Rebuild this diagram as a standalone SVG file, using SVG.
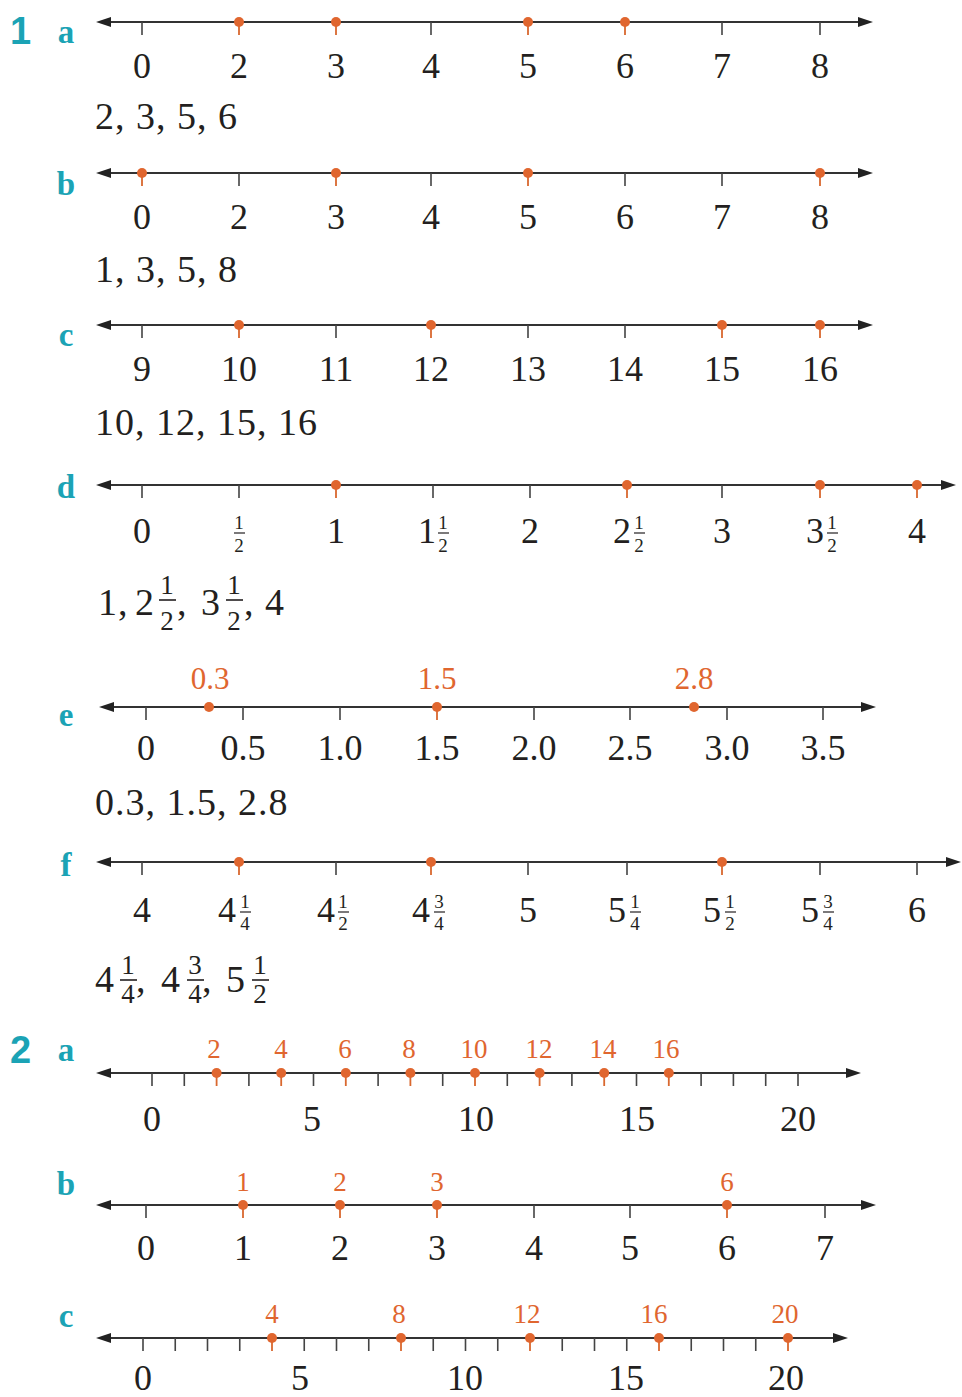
<svg xmlns="http://www.w3.org/2000/svg" width="962" height="1397" viewBox="0 0 962 1397">
<defs>
<style>
.ax{stroke:#333;stroke-width:2;fill:none}
.tk{stroke:#444;stroke-width:1.6;fill:none}
.otk{stroke:#D9682F;stroke-width:1.8;fill:none}
.dot{fill:#E0662F}
.num{font-family:"Liberation Serif",serif;font-size:36px;fill:#231F20;text-anchor:middle}
.nl{font-family:"Liberation Serif",serif;font-size:36px;fill:#231F20;text-anchor:end}
.sm{font-family:"Liberation Serif",serif;font-size:19px;fill:#231F20;text-anchor:middle}
.ans{font-family:"Liberation Serif",serif;font-size:38px;fill:#231F20;letter-spacing:1px}
.af{font-family:"Liberation Serif",serif;font-size:27px;fill:#231F20;text-anchor:middle}
.or{font-family:"Liberation Serif",serif;font-size:31px;fill:#E0662F;text-anchor:middle}
.or2{font-family:"Liberation Serif",serif;font-size:27px;fill:#E0662F;text-anchor:middle}
.q{font-family:"Liberation Sans",sans-serif;font-weight:bold;font-size:38px;fill:#1BA3B5}
.let{font-family:"Liberation Serif",serif;font-weight:bold;font-size:33px;fill:#1BA3B5;text-anchor:middle}
.bar{stroke:#231F20;stroke-width:1.2}
.bar2{stroke:#231F20;stroke-width:1.6}
</style>
<marker id="ah" markerUnits="userSpaceOnUse" markerWidth="16" markerHeight="12" refX="4" refY="6" orient="auto-start-reverse">
<path d="M0,1 L15,6 L0,11 z" fill="#222"/>
</marker>
</defs>
<rect width="962" height="1397" fill="#fff"/>

<text class="q" x="10" y="44">1</text>
<text class="q" x="10" y="1063">2</text>

<!-- 1a -->
<g id="q1a">
<text class="let" x="66" y="43">a</text>
<line class="ax" x1="107" y1="22" x2="862" y2="22" marker-start="url(#ah)" marker-end="url(#ah)"/>
<path class="tk" d="M142,22v13M431,22v13M722,22v13M820,22v13"/>
<path class="otk" d="M239,22v13M336,22v13M528,22v13M625,22v13"/>
<circle class="dot" cx="239" cy="22" r="5"/><circle class="dot" cx="336" cy="22" r="5"/><circle class="dot" cx="528" cy="22" r="5"/><circle class="dot" cx="625" cy="22" r="5"/>
<text class="num" y="78"><tspan x="142">0</tspan><tspan x="239">2</tspan><tspan x="336">3</tspan><tspan x="431">4</tspan><tspan x="528">5</tspan><tspan x="625">6</tspan><tspan x="722">7</tspan><tspan x="820">8</tspan></text>
<text class="ans" x="95" y="129">2, 3, 5, 6</text>
</g>

<!-- 1b -->
<g id="q1b">
<text class="let" x="66" y="195">b</text>
<line class="ax" x1="107" y1="173" x2="862" y2="173" marker-start="url(#ah)" marker-end="url(#ah)"/>
<path class="tk" d="M239,173v13M431,173v13M625,173v13M722,173v13"/>
<path class="otk" d="M142,173v13M336,173v13M528,173v13M820,173v13"/>
<circle class="dot" cx="142" cy="173" r="5"/><circle class="dot" cx="336" cy="173" r="5"/><circle class="dot" cx="528" cy="173" r="5"/><circle class="dot" cx="820" cy="173" r="5"/>
<text class="num" y="229"><tspan x="142">0</tspan><tspan x="239">2</tspan><tspan x="336">3</tspan><tspan x="431">4</tspan><tspan x="528">5</tspan><tspan x="625">6</tspan><tspan x="722">7</tspan><tspan x="820">8</tspan></text>
<text class="ans" x="95" y="282">1, 3, 5, 8</text>
</g>

<!-- 1c -->
<g id="q1c">
<text class="let" x="66" y="346">c</text>
<line class="ax" x1="107" y1="325" x2="862" y2="325" marker-start="url(#ah)" marker-end="url(#ah)"/>
<path class="tk" d="M142,325v13M336,325v13M528,325v13M625,325v13"/>
<path class="otk" d="M239,325v13M431,325v13M722,325v13M820,325v13"/>
<circle class="dot" cx="239" cy="325" r="5"/><circle class="dot" cx="431" cy="325" r="5"/><circle class="dot" cx="722" cy="325" r="5"/><circle class="dot" cx="820" cy="325" r="5"/>
<text class="num" y="381"><tspan x="142">9</tspan><tspan x="239">10</tspan><tspan x="336">11</tspan><tspan x="431">12</tspan><tspan x="528">13</tspan><tspan x="625">14</tspan><tspan x="722">15</tspan><tspan x="820">16</tspan></text>
<text class="ans" x="95" y="435">10, 12, 15, 16</text>
</g>

<!-- 1d -->
<g id="q1d">
<text class="let" x="66" y="498">d</text>
<line class="ax" x1="107" y1="485" x2="945" y2="485" marker-start="url(#ah)" marker-end="url(#ah)"/>
<path class="tk" d="M142,485v13M239,485v13M433,485v13M530,485v13M722,485v13"/>
<path class="otk" d="M336,485v13M627,485v13M820,485v13M917,485v13"/>
<circle class="dot" cx="336" cy="485" r="5"/><circle class="dot" cx="627" cy="485" r="5"/><circle class="dot" cx="820" cy="485" r="5"/><circle class="dot" cx="917" cy="485" r="5"/>
<text class="num" y="543"><tspan x="142">0</tspan><tspan x="336">1</tspan><tspan x="530">2</tspan><tspan x="722">3</tspan><tspan x="917">4</tspan></text>
<text class="sm" x="239" y="529">1</text><line class="bar" x1="234" y1="533" x2="245" y2="533"/><text class="sm" x="239" y="552">2</text>
<text class="nl" x="436" y="543">1</text><text class="sm" x="443" y="529">1</text><line class="bar" x1="438" y1="533" x2="449" y2="533"/><text class="sm" x="443" y="552">2</text>
<text class="nl" x="631" y="543">2</text><text class="sm" x="639" y="529">1</text><line class="bar" x1="634" y1="533" x2="645" y2="533"/><text class="sm" x="639" y="552">2</text>
<text class="nl" x="824" y="543">3</text><text class="sm" x="832" y="529">1</text><line class="bar" x1="827" y1="533" x2="838" y2="533"/><text class="sm" x="832" y="552">2</text>
<text class="ans" x="98" y="615">1,</text>
<text class="ans" x="135" y="615">2</text><text class="af" x="167" y="594">1</text><line class="bar2" x1="159" y1="600" x2="176" y2="600"/><text class="af" x="167" y="630">2</text><text class="ans" x="177" y="615">,</text>
<text class="ans" x="201" y="615">3</text><text class="af" x="234" y="594">1</text><line class="bar2" x1="226" y1="600" x2="243" y2="600"/><text class="af" x="234" y="630">2</text><text class="ans" x="244" y="615">, 4</text>
</g>

<!-- 1e -->
<g id="q1e">
<text class="let" x="66" y="726">e</text>
<line class="ax" x1="110" y1="707" x2="865" y2="707" marker-start="url(#ah)" marker-end="url(#ah)"/>
<path class="tk" d="M146,707v13M243,707v13M340,707v13M534,707v13M630,707v13M727,707v13M823,707v13"/>
<path class="otk" d="M437,707v13"/>
<circle class="dot" cx="209" cy="707" r="5"/><circle class="dot" cx="437" cy="707" r="5"/><circle class="dot" cx="694" cy="707" r="5"/>
<text class="or" y="689"><tspan x="210">0.3</tspan><tspan x="437">1.5</tspan><tspan x="694">2.8</tspan></text>
<text class="num" y="760"><tspan x="146">0</tspan><tspan x="243">0.5</tspan><tspan x="340">1.0</tspan><tspan x="437">1.5</tspan><tspan x="534">2.0</tspan><tspan x="630">2.5</tspan><tspan x="727">3.0</tspan><tspan x="823">3.5</tspan></text>
<text class="ans" x="95" y="815">0.3, 1.5, 2.8</text>
</g>

<!-- 1f -->
<g id="q1f">
<text class="let" x="66" y="876">f</text>
<line class="ax" x1="107" y1="862" x2="950" y2="862" marker-start="url(#ah)" marker-end="url(#ah)"/>
<path class="tk" d="M142,862v13M336,862v13M528,862v13M627,862v13M820,862v13M917,862v13"/>
<path class="otk" d="M239,862v13M431,862v13M722,862v13"/>
<circle class="dot" cx="239" cy="862" r="5"/><circle class="dot" cx="431" cy="862" r="5"/><circle class="dot" cx="722" cy="862" r="5"/>
<text class="num" y="922"><tspan x="142">4</tspan><tspan x="528">5</tspan><tspan x="917">6</tspan></text>
<text class="nl" x="236" y="922">4</text><text class="sm" x="245" y="908">1</text><line class="bar" x1="240" y1="912" x2="251" y2="912"/><text class="sm" x="245" y="930">4</text>
<text class="nl" x="335" y="922">4</text><text class="sm" x="343" y="908">1</text><line class="bar" x1="338" y1="912" x2="349" y2="912"/><text class="sm" x="343" y="930">2</text>
<text class="nl" x="430" y="922">4</text><text class="sm" x="439" y="908">3</text><line class="bar" x1="434" y1="912" x2="445" y2="912"/><text class="sm" x="439" y="930">4</text>
<text class="nl" x="626" y="922">5</text><text class="sm" x="635" y="908">1</text><line class="bar" x1="630" y1="912" x2="641" y2="912"/><text class="sm" x="635" y="930">4</text>
<text class="nl" x="721" y="922">5</text><text class="sm" x="730" y="908">1</text><line class="bar" x1="725" y1="912" x2="736" y2="912"/><text class="sm" x="730" y="930">2</text>
<text class="nl" x="819" y="922">5</text><text class="sm" x="828" y="908">3</text><line class="bar" x1="823" y1="912" x2="834" y2="912"/><text class="sm" x="828" y="930">4</text>
<text class="ans" x="95" y="992">4</text><text class="af" x="128" y="974">1</text><line class="bar2" x1="120" y1="980" x2="137" y2="980"/><text class="af" x="128" y="1003">4</text><text class="ans" x="136" y="992">,</text>
<text class="ans" x="161" y="992">4</text><text class="af" x="195" y="974">3</text><line class="bar2" x1="187" y1="980" x2="204" y2="980"/><text class="af" x="195" y="1003">4</text><text class="ans" x="202" y="992">,</text>
<text class="ans" x="226" y="992">5</text><text class="af" x="260" y="974">1</text><line class="bar2" x1="252" y1="980" x2="269" y2="980"/><text class="af" x="260" y="1003">2</text>
</g>

<!-- 2a -->
<g id="q2a">
<text class="let" x="66" y="1061">a</text>
<line class="ax" x1="107" y1="1073" x2="850" y2="1073" marker-start="url(#ah)" marker-end="url(#ah)"/>
<path class="tk" d="M152,1073v13M184.3,1073v13M248.9,1073v13M313.5,1073v13M378.1,1073v13M442.7,1073v13M507.3,1073v13M571.9,1073v13M636.5,1073v13M701.1,1073v13M733.4,1073v13M765.7,1073v13M798,1073v13"/>
<path class="otk" d="M216.6,1073v13M281.2,1073v13M345.8,1073v13M410.4,1073v13M475,1073v13M539.6,1073v13M604.2,1073v13M668.8,1073v13"/>
<circle class="dot" cx="216.6" cy="1073" r="5"/><circle class="dot" cx="281.2" cy="1073" r="5"/><circle class="dot" cx="345.8" cy="1073" r="5"/><circle class="dot" cx="410.4" cy="1073" r="5"/><circle class="dot" cx="475" cy="1073" r="5"/><circle class="dot" cx="539.6" cy="1073" r="5"/><circle class="dot" cx="604.2" cy="1073" r="5"/><circle class="dot" cx="668.8" cy="1073" r="5"/>
<text class="or2" y="1058"><tspan x="214">2</tspan><tspan x="281">4</tspan><tspan x="345">6</tspan><tspan x="409">8</tspan><tspan x="474">10</tspan><tspan x="539">12</tspan><tspan x="603">14</tspan><tspan x="666">16</tspan></text>
<text class="num" y="1131"><tspan x="152">0</tspan><tspan x="312">5</tspan><tspan x="476">10</tspan><tspan x="637">15</tspan><tspan x="798">20</tspan></text>
</g>

<!-- 2b -->
<g id="q2b">
<text class="let" x="66" y="1195">b</text>
<line class="ax" x1="107" y1="1205" x2="865" y2="1205" marker-start="url(#ah)" marker-end="url(#ah)"/>
<path class="tk" d="M146,1205v13M534,1205v13M630,1205v13M825,1205v13"/>
<path class="otk" d="M243,1205v13M340,1205v13M437,1205v13M727,1205v13"/>
<circle class="dot" cx="243" cy="1205" r="5"/><circle class="dot" cx="340" cy="1205" r="5"/><circle class="dot" cx="437" cy="1205" r="5"/><circle class="dot" cx="727" cy="1205" r="5"/>
<text class="or2" y="1191"><tspan x="243">1</tspan><tspan x="340">2</tspan><tspan x="437">3</tspan><tspan x="727">6</tspan></text>
<text class="num" y="1260"><tspan x="146">0</tspan><tspan x="243">1</tspan><tspan x="340">2</tspan><tspan x="437">3</tspan><tspan x="534">4</tspan><tspan x="630">5</tspan><tspan x="727">6</tspan><tspan x="825">7</tspan></text>
</g>

<!-- 2c -->
<g id="q2c">
<text class="let" x="66" y="1327">c</text>
<line class="ax" x1="107" y1="1338" x2="837" y2="1338" marker-start="url(#ah)" marker-end="url(#ah)"/>
<path class="tk" d="M143,1338v13M175.25,1338v13M207.5,1338v13M239.75,1338v13M304.25,1338v13M336.5,1338v13M368.75,1338v13M433.25,1338v13M465.5,1338v13M497.75,1338v13M562.25,1338v13M594.5,1338v13M626.75,1338v13M691.25,1338v13M723.5,1338v13M755.75,1338v13"/>
<path class="otk" d="M272,1338v13M401,1338v13M530,1338v13M659,1338v13M788,1338v13"/>
<circle class="dot" cx="272" cy="1338" r="5"/><circle class="dot" cx="401" cy="1338" r="5"/><circle class="dot" cx="530" cy="1338" r="5"/><circle class="dot" cx="659" cy="1338" r="5"/><circle class="dot" cx="788" cy="1338" r="5"/>
<text class="or2" y="1323"><tspan x="272">4</tspan><tspan x="399">8</tspan><tspan x="527">12</tspan><tspan x="654">16</tspan><tspan x="785">20</tspan></text>
<text class="num" y="1390"><tspan x="143">0</tspan><tspan x="300">5</tspan><tspan x="465">10</tspan><tspan x="626">15</tspan><tspan x="786">20</tspan></text>
</g>
</svg>
